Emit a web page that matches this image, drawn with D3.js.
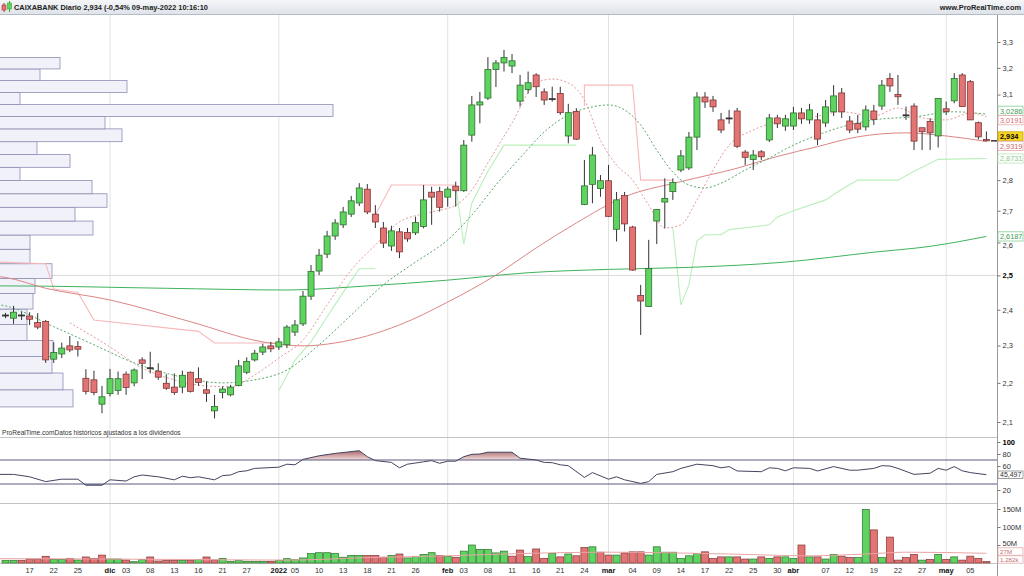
<!DOCTYPE html>
<html>
<head>
<meta charset="utf-8">
<script src="https://cdn.jsdelivr.net/npm/d3@7"></script>
<style>
  body { margin: 0; background: #fff; }
  text { font-family: "Liberation Sans", Arial, sans-serif; }
</style>
</head>
<body>
<div id="wrapper"></div>
<script>
// ---- price data (daily candles, 12-nov-2021 .. 09-may-2022) ----
const opens  = [2.385,2.376,2.385,2.382,2.364,2.367,2.263,2.277,2.299,2.297,2.212,2.208,2.145,2.172,2.180,2.223,2.200,2.261,2.240,2.231,2.199,2.189,2.189,2.228,2.211,2.182,2.128,2.175,2.169,2.193,2.228,2.261,2.282,2.299,2.296,2.302,2.337,2.360,2.439,2.513,2.564,2.620,2.655,2.689,2.725,2.770,2.689,2.645,2.589,2.633,2.631,2.630,2.650,2.760,2.762,2.744,2.780,2.765,2.954,3.062,3.087,3.194,3.219,3.207,3.076,3.119,3.173,3.110,3.085,3.104,2.951,3.038,2.720,2.786,2.772,2.798,2.641,2.749,2.648,2.441,2.409,2.667,2.728,2.762,2.834,2.841,2.947,3.091,3.080,3.008,3.015,3.040,2.895,2.870,2.896,2.937,3.015,2.986,2.986,3.033,3.008,3.008,2.997,3.037,3.106,3.004,2.995,2.983,3.040,3.058,3.160,3.100,3.026,3.058,2.980,3.002,2.951,3.048,3.077,3.173,3.148,2.998,2.939];
const highs  = [2.391,2.411,2.395,2.393,2.390,2.371,2.309,2.308,2.326,2.312,2.236,2.232,2.192,2.237,2.230,2.230,2.238,2.268,2.283,2.252,2.223,2.225,2.232,2.230,2.241,2.204,2.169,2.191,2.195,2.261,2.268,2.288,2.305,2.310,2.321,2.357,2.371,2.454,2.531,2.580,2.636,2.673,2.712,2.748,2.790,2.787,2.718,2.664,2.652,2.645,2.645,2.681,2.784,2.778,2.778,2.778,2.795,2.937,3.095,3.110,3.241,3.230,3.269,3.253,3.173,3.186,3.180,3.123,3.129,3.129,3.066,3.050,2.868,2.913,2.817,2.851,2.761,2.761,2.652,2.472,2.608,2.704,2.806,2.806,2.902,2.965,3.109,3.109,3.095,3.033,3.044,3.051,2.902,2.902,2.902,3.029,3.026,3.026,3.055,3.051,3.066,3.033,3.080,3.135,3.124,3.022,3.026,3.060,3.062,3.154,3.180,3.173,3.056,3.068,2.980,3.014,3.086,3.074,3.180,3.180,3.154,3.002,2.967];
const lows   = [2.376,2.360,2.371,2.357,2.345,2.253,2.253,2.266,2.282,2.270,2.170,2.168,2.122,2.165,2.169,2.169,2.191,2.210,2.225,2.208,2.182,2.169,2.173,2.175,2.192,2.151,2.109,2.160,2.165,2.191,2.223,2.257,2.274,2.282,2.288,2.293,2.326,2.354,2.428,2.501,2.552,2.608,2.645,2.680,2.715,2.689,2.645,2.583,2.574,2.552,2.602,2.623,2.644,2.655,2.697,2.713,2.713,2.761,2.931,2.996,3.080,3.128,3.186,3.180,3.056,3.104,3.091,3.062,3.074,3.026,2.925,2.937,2.718,2.724,2.745,2.680,2.603,2.634,2.514,2.329,2.409,2.595,2.644,2.735,2.827,2.834,2.902,3.051,3.037,2.961,2.994,2.909,2.851,2.834,2.868,2.930,2.979,2.969,2.972,2.994,2.994,2.919,2.983,3.022,3.015,2.961,2.961,2.970,2.990,3.044,3.110,3.062,3.008,2.902,2.902,2.902,2.911,3.026,3.068,3.056,3.008,2.939,2.932];
const closes = [2.385,2.393,2.385,2.373,2.351,2.261,2.281,2.293,2.288,2.290,2.178,2.175,2.164,2.211,2.211,2.188,2.234,2.252,2.240,2.215,2.186,2.175,2.220,2.178,2.201,2.173,2.139,2.184,2.189,2.245,2.257,2.279,2.296,2.291,2.310,2.351,2.357,2.439,2.512,2.561,2.620,2.661,2.696,2.732,2.774,2.696,2.664,2.598,2.636,2.571,2.611,2.662,2.735,2.744,2.711,2.770,2.765,2.919,3.062,3.073,3.194,3.219,3.240,3.227,3.135,3.144,3.129,3.080,3.085,3.034,3.034,2.940,2.781,2.885,2.798,2.682,2.735,2.658,2.516,2.425,2.521,2.704,2.740,2.792,2.882,2.947,3.091,3.073,3.055,2.972,3.015,2.915,2.877,2.885,2.879,3.015,2.994,3.012,3.033,3.012,3.044,2.940,3.055,3.095,3.037,2.972,2.975,3.044,3.010,3.135,3.132,3.092,3.026,2.933,2.966,2.962,3.086,3.038,3.160,3.056,3.008,2.948,2.934];
// volume, millions of shares
const volumes = [7.5,7.5,7.5,11,11,18.6,10,10,13,8.3,16.7,13,22,11,11,8.3,3.6,10,16.7,5.6,7.5,7.5,7.5,7.5,10,16.7,8.3,13,4.7,7.5,4.7,4.7,4.7,4.7,7.5,12,9,14,26,28.6,28.6,27,16,21,21,21,21,16,21,25,14,18.6,24,28.6,21,18.6,16,33,50,38,38,28,
  33,19,36,18,39,13,26,17,25,20,43,45,30,22,22,28,31,31,22,45,30,30,13,20,26,31,13,17,17,17,11,11,17,13,17,17,13,50,17,17,11,24,19,15,15,149,92,15,72,8,15,24,8,10,24,10,17,8,19,13,4];

// x axis labels: [candle index, label, bold]
const xTicks = [[3,"17"],[6,"22"],[9,"25"],[13,"dic",1],[15,"03"],[18,"08"],[21,"13"],[24,"16"],[27,"21"],[30,"27"],[34,"2022",1],[36,"05"],[39,"10"],[42,"13"],[45,"18"],[48,"21"],[51,"26"],[55,"feb",1],[57,"03"],[60,"08"],[63,"11"],[66,"16"],[69,"21"],[72,"24"],[75,"mar",1],[78,"04"],[81,"09"],[84,"14"],[87,"17"],[90,"22"],[93,"25"],[96,"30"],[98,"abr",1],[102,"07"],[105,"12"],[108,"19"],[111,"22"],[114,"27"],[117,"may",1],[120,"05"]];
const monthStarts = [13,34,55,75,98,117];
// price ticks; 2,9 and 3 sit under the value tags in the original
const priceTicks = [2.1,2.2,2.3,2.4,2.5,2.6,2.7,2.8,3.1,3.2,3.3];
const rsiTicks = [20,60,80,100];
const volTicks = [50,100,150];

// moving averages, read at [candle index, price]
const smaLong = [[-1,2.469],[0,2.469],[20,2.462],[35,2.457],[45,2.469],[55,2.486],[65,2.508],[75,2.518],[85,2.524],[97,2.540],[108,2.570],[115,2.588],[122,2.6187]];
const smaMid  = [[-1,2.497],[0,2.494],[5,2.462],[13,2.428],[23,2.366],[32,2.310],[37,2.299],[41,2.307],[49,2.357],[55,2.422],[61,2.501],[66,2.583],[71,2.661],[77,2.745],[84,2.795],[91,2.840],[96,2.880],[101,2.914],[106,2.948],[112,2.962],[117,2.951],[122,2.9319]];
const smaFast = [[8,2.363],[13,2.296],[17,2.239],[21,2.208],[25,2.192],[28,2.190],[31,2.221],[34,2.266],[37,2.315],[40,2.414],[43,2.516],[46,2.592],[49,2.664],[53,2.696],[56,2.718],[58,2.767],[60,2.858],[63,2.997],[66,3.143],[68,3.158],[70,3.143],[72,3.080],[74,2.937],[76,2.851],[78,2.800],[80,2.718],[82,2.645],[84,2.655],[86,2.735],[88,2.834],[90,2.919],[93,2.972],[96,3.001],[100,3.015],[104,3.037],[108,3.022],[111,3.051],[114,3.015],[117,3.008],[120,3.033],[122,3.0191]];
const smaSlow = [[-1,2.415],[0,2.411],[6,2.352],[11,2.302],[16,2.253],[22,2.215],[27,2.200],[31,2.208],[35,2.234],[39,2.302],[43,2.385],[47,2.472],[51,2.540],[55,2.608],[58,2.686],[61,2.784],[64,2.875],[67,2.965],[70,3.026],[73,3.055],[75,3.062],[77,3.044],[79,2.990],[81,2.902],[83,2.827],[85,2.784],[87,2.774],[89,2.790],[92,2.834],[95,2.875],[98,2.919],[101,2.954],[104,2.983],[108,3.008],[113,3.019],[118,3.037],[122,3.0286]];

// trailing stop line: resistance (pink) and support (light green) legs
const stopDown = [
  [[-1,2.540],[5,2.535],[6,2.460],[9,2.450],[11,2.371],[24,2.339],[26,2.307],[34,2.307]],
  [[46,2.686],[48,2.784],[56,2.784]],
  [[72,3.058],[72,3.135],[78,3.135],[79,2.800],[83,2.800]]
];
const stopUp = [
  [[34,2.180],[36,2.260],[38,2.310],[40,2.380],[42,2.450],[44,2.520],[46,2.520]],
  [[56,2.784],[57,2.595],[58,2.725],[60,2.830],[62,2.919],[71,2.919]],
  [[83,2.646],[84,2.414],[85,2.472],[86,2.605],[87,2.624],[89,2.624],[90,2.640],[95,2.655],[96,2.680],[98,2.700],[102,2.735],[104,2.770],[106,2.800],[111,2.800],[113,2.830],[116,2.870],[122,2.8731]]
];

// volume profile: price bin edges and volume per bin
const profileEdges = [2.138,2.182,2.226,2.270,2.314,2.358,2.402,2.447,2.491,2.535,2.579,2.623,2.667,2.711,2.755,2.799,2.843,2.887,2.931,2.976,3.020,3.064,3.108,3.152,3.196,3.240];
const profileVol   = [73,63,52,53,27,27,33,35,52,30,30,93,75,107,92,20,70,37,122,105,333,20,127,40,60];

// RSI(14), read at [candle index, value]
const rsi = [[-1,46],[1,46],[3,42],[5,34],[7,38],[9,38],[10,28],[12,28],[13,37],[15,35],[16,42],[17,45],[19,42],[21,37],[22,43],[23,40.5],[24,42],[26,37],[27,44],[28,45],[29,50.5],[30,52],[31,56],[34,58],[35,63],[36,62],[37,71],[39,77],[41,81],[44,85.5],[45,75.5],[46,69],[48,66],[49,57],[50,63],[52,67],[53,69],[54,64.5],[55,68],[56,68],[57,75.5],[58,79.5],[59,80],[60,83],[63,83],[64,73],[66,70],[67,66],[68,65.5],[69,62],[70,60.5],[72,41],[73,49],[75,38],[76,42],[77,37],[79,31],[80,34],[81,46],[83,50.5],[84,56],[86,63],[88,60.5],[89,57],[90,59],[91,51.7],[94,50.5],[95,57],[96,56],[97,52],[98,57],[100,56],[101,51.7],[103,59],[105,53],[106,53],[108,56],[109,60.5],[110,60],[111,56],[113,46],[115,48],[116,56],[117,53],[118,59],[119,52],[120,49],[122,45.497]];
// 20-day average of volume, [candle index, millions]
const volAvg = [[-1,12],[0,12],[20,10],[35,8],[45,15],[55,20],[62,25],[75,30],[90,25],[100,20],[107,25],[112,30],[122,27]];

// ---- layout ----
const W = 1024, H = 576;
const axisX = 997;
const fmtLoc = d3.formatLocale({decimal: ",", thousands: ".", grouping: [3], currency: ["", ""]});
const f3 = fmtLoc.format(".3f"), f4 = fmtLoc.format(".4f");

const svg = d3.select("#wrapper").append("svg").attr("width", W).attr("height", H);
const defs = svg.append("defs");

const x = d3.scaleLinear().domain([0, 122]).range([5.5, 986.4]);
const y = d3.scaleLog().domain([2.1, 3.3]).range([422, 42]);
const yR = d3.scaleLinear().domain([0, 100]).range([502, 442]);
const yV = d3.scaleLinear().domain([0, 150]).range([563, 509]);
const xP = d3.scaleLinear().domain([0, d3.max(profileVol)]).range([0, 333]);

const green = "#5fd35f", greenDark = "#2f6f2f", red = "#e47474", redDark = "#7e3636";

// header
const hg = defs.append("linearGradient").attr("id", "hdr").attr("x1", 0).attr("x2", 0).attr("y1", 0).attr("y2", 1);
hg.append("stop").attr("offset", "0").attr("stop-color", "#f4f6f8");
hg.append("stop").attr("offset", "1").attr("stop-color", "#dfe4ea");
svg.append("rect").attr("x", 0).attr("y", 0).attr("width", W).attr("height", 14).attr("fill", "url(#hdr)");
svg.append("line").attr("x1", 0).attr("x2", W).attr("y1", 14.5).attr("y2", 14.5).attr("stroke", "#b4bcc6");
// small candle icon
svg.append("line").attr("x1", 4).attr("x2", 4).attr("y1", 3).attr("y2", 12).attr("stroke", "#a33");
svg.append("rect").attr("x", 2).attr("y", 5).attr("width", 4).attr("height", 5).attr("fill", red).attr("stroke", "#a33").attr("stroke-width", 0.6);
svg.append("line").attr("x1", 9.5).attr("x2", 9.5).attr("y1", 1).attr("y2", 12).attr("stroke", "#3a3");
svg.append("rect").attr("x", 7.5).attr("y", 3).attr("width", 4).attr("height", 6).attr("fill", green).attr("stroke", "#3a3").attr("stroke-width", 0.6);
svg.append("text").attr("x", 14).attr("y", 10).attr("font-size", 7.4).attr("font-weight", "bold").attr("fill", "#222")
  .text("CAIXABANK Diario 2,934 (-0,54% 09-may-2022 10:16:10");
svg.append("text").attr("x", 1021).attr("y", 10).attr("text-anchor", "end").attr("font-size", 7.4).attr("font-weight", "bold").attr("fill", "#222")
  .text("www.ProRealTime.com");

// month grid lines
svg.append("g").selectAll("line").data(monthStarts).join("line")
  .attr("x1", d => x(d)).attr("x2", d => x(d)).attr("y1", 15).attr("y2", 563)
  .attr("stroke", "#e2e2e2");
// panel separators
[437.5, 503.5, 563.5].forEach(v => svg.append("line").attr("x1", 0).attr("x2", axisX).attr("y1", v).attr("y2", v).attr("stroke", "#c4c4c4"));
svg.append("line").attr("x1", 0).attr("x2", axisX).attr("y1", y(2.5)).attr("y2", y(2.5)).attr("stroke", "#dadada");

// ---- main price panel ----
defs.append("clipPath").attr("id", "mainClip").append("rect").attr("x", 0).attr("y", 15).attr("width", axisX).attr("height", 422);
const main = svg.append("g").attr("clip-path", "url(#mainClip)");

// volume profile
main.append("g").selectAll("rect").data(profileVol).join("rect")
  .attr("x", -1)
  .attr("y", (d, i) => y(profileEdges[i + 1]))
  .attr("width", d => xP(d) + 1)
  .attr("height", (d, i) => y(profileEdges[i]) - y(profileEdges[i + 1]))
  .attr("fill", "#f1f1fa").attr("stroke", "#8d8db3").attr("stroke-width", 0.8);

const line = d3.line().x(d => x(d[0])).y(d => y(d[1]));
stopDown.forEach(seg => main.append("path").attr("d", line(seg)).attr("fill", "none").attr("stroke", "#f7b9b9").attr("stroke-width", 1.1));
stopUp.forEach(seg => main.append("path").attr("d", line(seg)).attr("fill", "none").attr("stroke", "#b9efb9").attr("stroke-width", 1.1));

const smooth = d3.line().x(d => x(d[0])).y(d => y(d[1])).curve(d3.curveMonotoneX);
main.append("path").attr("d", smooth(smaLong)).attr("fill", "none").attr("stroke", "#3fb35d").attr("stroke-width", 1);
main.append("path").attr("d", smooth(smaMid)).attr("fill", "none").attr("stroke", "#dc8686").attr("stroke-width", 1);
main.append("path").attr("d", smooth(smaSlow)).attr("fill", "none").attr("stroke", "#58a86a").attr("stroke-width", 1).attr("stroke-dasharray", "2,2");
main.append("path").attr("d", smooth(smaFast)).attr("fill", "none").attr("stroke", "#e39a9a").attr("stroke-width", 1).attr("stroke-dasharray", "2,2");

// candles
const candles = main.append("g").selectAll("g").data(closes).join("g");
const isDoji = i => Math.abs(opens[i] - closes[i]) < 0.0005;
candles.append("line")
  .attr("x1", (d, i) => x(i)).attr("x2", (d, i) => x(i))
  .attr("y1", (d, i) => y(highs[i])).attr("y2", (d, i) => y(lows[i]))
  .attr("stroke", "#333").attr("stroke-width", 1);
candles.append("rect")
  .attr("x", (d, i) => x(i) - 3)
  .attr("y", (d, i) => y(Math.max(opens[i], d)))
  .attr("width", 6)
  .attr("height", (d, i) => Math.max(1, Math.abs(y(opens[i]) - y(d))))
  .attr("fill", (d, i) => isDoji(i) ? "#333" : (d >= opens[i] ? green : red))
  .attr("stroke", (d, i) => isDoji(i) ? "#333" : (d >= opens[i] ? greenDark : redDark))
  .attr("stroke-width", 0.8);

main.append("text").attr("x", 2).attr("y", 435).attr("font-size", 6.6).attr("fill", "#333")
  .text("ProRealTime.comDatos históricos ajustados a los dividendos");

// ---- RSI panel ----
defs.append("clipPath").attr("id", "rsiHi").append("rect").attr("x", 0).attr("y", 438).attr("width", axisX).attr("height", yR(70) - 438);
defs.append("clipPath").attr("id", "rsiLo").append("rect").attr("x", 0).attr("y", yR(30)).attr("width", axisX).attr("height", 503 - yR(30));
const rg = defs.append("linearGradient").attr("id", "rsiFill").attr("gradientUnits", "userSpaceOnUse")
  .attr("x1", 0).attr("x2", 0).attr("y1", yR(86)).attr("y2", yR(70));
rg.append("stop").attr("offset", "0").attr("stop-color", "#a86464");
rg.append("stop").attr("offset", "1").attr("stop-color", "#f3dede");
const rsiLine = d3.line().x(d => x(d[0])).y(d => yR(d[1]));
svg.append("path").attr("clip-path", "url(#rsiHi)")
  .attr("d", d3.area().x(d => x(d[0])).y0(yR(70)).y1(d => yR(d[1]))(rsi)).attr("fill", "url(#rsiFill)");
svg.append("path").attr("clip-path", "url(#rsiLo)")
  .attr("d", d3.area().x(d => x(d[0])).y0(yR(30)).y1(d => yR(d[1]))(rsi)).attr("fill", "#9aa6c8");
[70, 30].forEach(v => svg.append("line").attr("x1", 0).attr("x2", axisX).attr("y1", yR(v)).attr("y2", yR(v)).attr("stroke", "#5a5a7e"));
defs.append("clipPath").attr("id", "plotClip").append("rect").attr("x", 0).attr("y", 0).attr("width", axisX).attr("height", H);
svg.append("path").attr("clip-path", "url(#plotClip)").attr("d", rsiLine(rsi)).attr("fill", "none").attr("stroke", "#444460").attr("stroke-width", 1);

// ---- volume panel ----
const upDay = i => i === 0 ? closes[0] >= opens[0] : closes[i] >= closes[i - 1];
svg.append("g").selectAll("rect").data(volumes).join("rect")
  .attr("x", (d, i) => x(i) - 3.5)
  .attr("y", d => yV(d))
  .attr("width", 7)
  .attr("height", d => 563 - yV(d))
  .attr("fill", (d, i) => upDay(i) ? green : red)
  .attr("stroke", (d, i) => upDay(i) ? greenDark : redDark)
  .attr("stroke-width", 0.7);
svg.append("path").attr("clip-path", "url(#plotClip)")
  .attr("d", d3.line().x(d => x(d[0])).y(d => yV(d[1])).curve(d3.curveMonotoneX)(volAvg))
  .attr("fill", "none").attr("stroke", "#eaa4a4").attr("stroke-width", 1);

// ---- right axis ----
svg.append("line").attr("x1", axisX + 0.5).attr("x2", axisX + 0.5).attr("y1", 15).attr("y2", 576).attr("stroke", "#9a9a9a");
const pAxis = svg.append("g").attr("transform", `translate(${axisX + 0.5},0)`)
  .call(d3.axisRight(y).tickValues(priceTicks).tickFormat(d => fmtLoc.format(".1f")(d)).tickSize(3));
const rAxis = svg.append("g").attr("transform", `translate(${axisX + 0.5},0)`)
  .call(d3.axisRight(yR).tickValues(rsiTicks).tickSize(3));
const vAxis = svg.append("g").attr("transform", `translate(${axisX + 0.5},0)`)
  .call(d3.axisRight(yV).tickValues(volTicks).tickFormat(d => d + "M").tickSize(3));
[pAxis, rAxis, vAxis].forEach(g => {
  g.select(".domain").remove();
  g.selectAll("line").attr("stroke", "#777");
  g.selectAll("text").attr("font-size", 7.5).attr("fill", "#333").attr("x", 5).style("font-family", "Liberation Sans, Arial, sans-serif");
});
pAxis.selectAll("text").filter(d => d === 2.5).attr("font-weight", "bold").attr("fill", "#000");
// 2,6 peeks out just below its value tag
pAxis.selectAll("text").filter(d => d === 2.6).attr("dy", "0.72em");
rAxis.selectAll("text").filter(d => d === 100).attr("font-weight", "bold").attr("fill", "#000");
vAxis.selectAll("text").filter(d => d === 50).attr("dy", "0.1em");

// value tags on the axis, pushed apart when they overlap
const tags = [
  {v: 3.0286, text: f4(3.0286), color: "#3c9c4f", border: "#86cc94"},
  {v: 3.0191, text: f4(3.0191), color: "#d46c6c", border: "#e8aaaa"},
  {v: closes[122], text: f3(closes[122]), color: "#000", border: "#c9a400", bg: "#f6d423", bold: true},
  {v: 2.9319, text: f4(2.9319), color: "#cc6767", border: "#e8aaaa"},
  {v: 2.8731, text: f4(2.8731), color: "#88c888", border: "#b8e4b8"},
  {v: 2.6187, text: f4(2.6187), color: "#3c9c4f", border: "#86cc94"}
];
tags.forEach(t => { t.y = y(t.v); });
const tagH = 9.4;
for (let k = 0; k < 10; k++) {
  for (let i = 1; i < tags.length; i++) {
    const a = tags[i - 1], b = tags[i];
    if (b.y - a.y < tagH) {
      const m = (a.y + b.y) / 2;
      a.y = m - tagH / 2; b.y = m + tagH / 2;
    }
  }
}
const tagG = svg.append("g").selectAll("g").data(tags).join("g").attr("transform", d => `translate(${axisX + 1},${d.y})`);
tagG.append("rect").attr("x", 0).attr("y", -4.6).attr("width", 25).attr("height", 9.2)
  .attr("fill", d => d.bg || "#fff").attr("stroke", d => d.border).attr("stroke-width", 0.8);
tagG.append("text").attr("x", 2).attr("y", 2.8).attr("font-size", 7.3).attr("fill", d => d.color)
  .attr("font-weight", d => d.bold ? "bold" : "normal").text(d => d.text);
// last price dash
svg.append("line").attr("x1", axisX - 6).attr("x2", axisX).attr("y1", y(closes[122])).attr("y2", y(closes[122])).attr("stroke", "#222").attr("stroke-width", 1.4);

// RSI and volume tags
const smallTag = (yy, txt, col, border, fs) => {
  const g = svg.append("g").attr("transform", `translate(${axisX + 1},${yy})`);
  g.append("rect").attr("x", 0).attr("y", -3.7).attr("width", 25).attr("height", 7.4).attr("fill", "#fff").attr("stroke", border).attr("stroke-width", 0.8);
  g.append("text").attr("x", 2).attr("y", 2.3).attr("font-size", fs).attr("fill", col).text(txt);
};
smallTag(yR(45.497), f3(45.497), "#333", "#888", 7);
smallTag(551.5, "27M", "#c46a6a", "#e6a8a8", 6.2);
smallTag(559.5, "1.282k", "#c46a6a", "#e6a8a8", 6.2);

// ---- bottom date axis ----
svg.append("g").selectAll("text").data(xTicks).join("text")
  .attr("x", d => x(d[0])).attr("y", 573).attr("text-anchor", "middle")
  .attr("font-size", 7.5).attr("font-weight", d => d[2] ? "bold" : "normal")
  .attr("fill", d => d[2] ? "#111" : "#333").text(d => d[1]);
</script>
</body>
</html>
